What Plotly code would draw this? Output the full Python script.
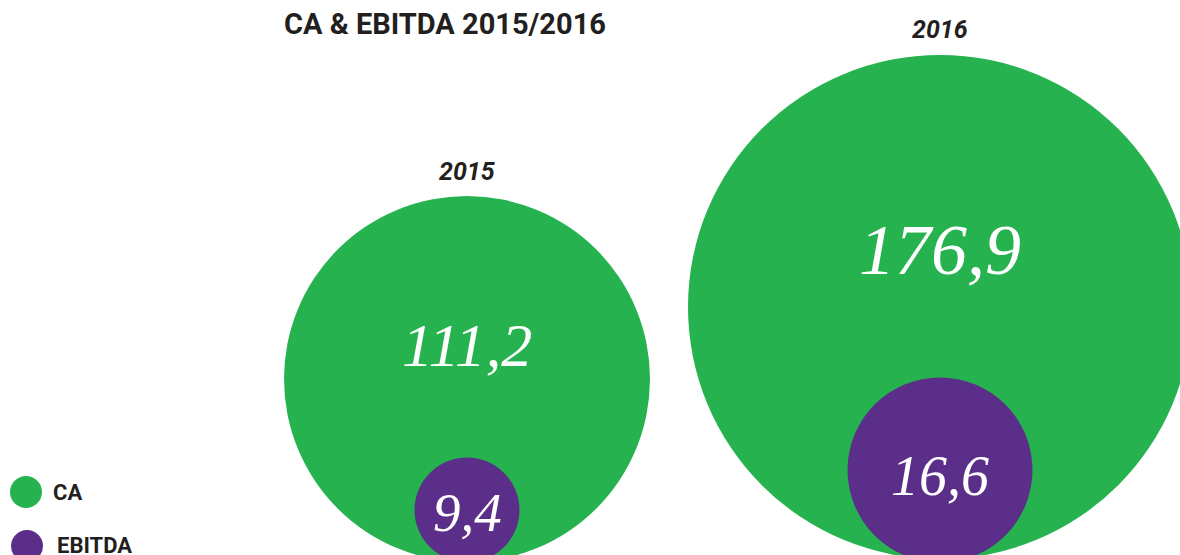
import plotly.graph_objects as go

# ---- data ----
years = ["2015", "2016"]
ca = [111.2, 176.9]
ebitda = [9.4, 16.6]
series_names = ["CA", "EBITDA"]
title_text = "CA & EBITDA 2015/2016"

# ---- layout / style config (page-pixel space) ----
W, H = 1180, 555
GREEN = "#26B34F"
PURPLE = "#5B2E89"
DARK = "#231F20"
year_x = [467, 940]
ca_y = [379, 307]
ca_diam = [366, 504]
eb_y = [510, 470]
eb_diam = [105, 185]
ca_text_y = [345, 250]
ca_font = [62, 72]
eb_text_y = [512, 476]
eb_font = [55, 56]
year_label_y = [171, 29]


def fmt(v):
    return f"{v:.1f}".replace(".", ",")


fig = go.Figure()

fig.add_trace(go.Scatter(
    x=year_x, y=ca_y, mode="markers", cliponaxis=False,
    marker=dict(size=ca_diam, color=GREEN, opacity=1, line=dict(width=0)),
    name=series_names[0], showlegend=False, hoverinfo="skip"))
fig.add_trace(go.Scatter(
    x=year_x, y=eb_y, mode="markers", cliponaxis=False,
    marker=dict(size=eb_diam, color=PURPLE, opacity=1, line=dict(width=0)),
    name=series_names[1], showlegend=False, hoverinfo="skip"))

# legend swatches
fig.add_trace(go.Scatter(
    x=[26, 27], y=[492, 546], mode="markers", cliponaxis=False,
    marker=dict(size=[32, 32], color=[GREEN, PURPLE], opacity=1,
                line=dict(width=0)),
    showlegend=False, hoverinfo="skip"))

annotations = []
for i, yr in enumerate(years):
    annotations.append(dict(
        x=year_x[i], y=year_label_y[i], text=f"<b><i>{yr}</i></b>",
        showarrow=False, xanchor="center", yanchor="middle",
        font=dict(family="Roboto", size=25, color=DARK)))
    annotations.append(dict(
        x=year_x[i], y=ca_text_y[i], text=f"<i>{fmt(ca[i])}</i>",
        showarrow=False, xanchor="center", yanchor="middle",
        font=dict(family="Liberation Serif", size=ca_font[i], color="white")))
    annotations.append(dict(
        x=year_x[i], y=eb_text_y[i], text=f"<i>{fmt(ebitda[i])}</i>",
        showarrow=False, xanchor="center", yanchor="middle",
        font=dict(family="Liberation Serif", size=eb_font[i], color="white")))

annotations.append(dict(
    x=445, y=24, text=f"<b>{title_text}</b>", showarrow=False,
    xanchor="center", yanchor="middle",
    font=dict(family="Roboto", size=29, color=DARK)))
annotations.append(dict(
    x=51, y=492, text=f"<b>{series_names[0]}</b>", showarrow=False,
    xanchor="left", yanchor="middle",
    font=dict(family="Roboto", size=22, color=DARK)))
annotations.append(dict(
    x=55, y=545, text=f"<b>{series_names[1]}</b>", showarrow=False,
    xanchor="left", yanchor="middle",
    font=dict(family="Roboto", size=22, color=DARK)))

fig.update_layout(
    width=W, height=H, autosize=False,
    margin=dict(l=0, r=0, t=0, b=0, pad=0),
    paper_bgcolor="white", plot_bgcolor="white",
    xaxis=dict(range=[0, W], visible=False, fixedrange=True),
    yaxis=dict(range=[H, 0], visible=False, fixedrange=True),
    annotations=annotations,
    showlegend=False,
)

fig.write_html(
    "out.html",
    config=dict(displayModeBar=False),
    post_script="document.body.style.margin='0';document.body.style.overflow='hidden';",
)
